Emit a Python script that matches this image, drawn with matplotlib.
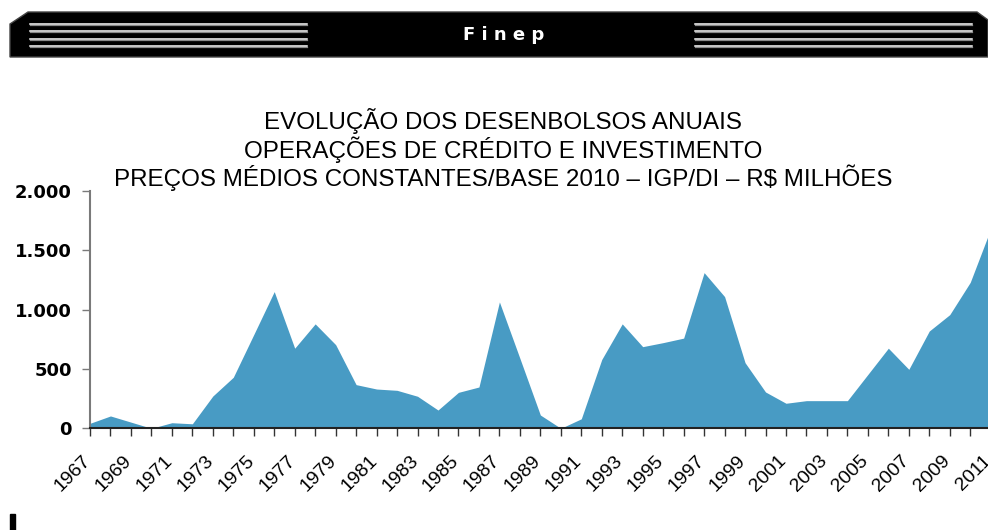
import numpy as np
import matplotlib.pyplot as plt
from matplotlib.patches import Polygon, Rectangle
from matplotlib.transforms import ScaledTranslation

## data (R$ milhoes, precos constantes 2010)
anos = list(range(1967, 2012))
desembolsos = [42, 104, 52, 0, 47, 38, 272, 430, 790, 1152,
               675, 880, 705, 368, 331, 320, 270, 154, 303, 348,
               1065, 590, 112, 0, 80, 580, 880, 688, 722, 760,
               1312, 1110, 553, 306, 211, 233, 233, 233, 454, 675,
               497, 820, 958, 1230, 1680]
yticks = [0, 500, 1000, 1500, 2000]
ytick_labels = ['0', '500', '1.000', '1.500', '2.000']
titulo = ['EVOLUÇÃO DOS DESENBOLSOS ANUAIS',
          'OPERAÇÕES DE CRÉDITO E INVESTIMENTO',
          'PREÇOS MÉDIOS CONSTANTES/BASE 2010 – IGP/DI – R$ MILHÕES']

W, H = 988, 530
fig = plt.figure(figsize=(W / 100, H / 100), dpi=100)

# background layer in pixel coords (header banner etc.)
bg = fig.add_axes([0, 0, 1, 1])
bg.set_xlim(0, W)
bg.set_ylim(H, 0)
bg.axis('off')
bg.add_patch(Polygon([(10, 57), (10, 24), (28, 12), (977, 12), (988, 20), (988, 57)],
                     closed=True, facecolor='black', edgecolor='#444444', lw=1))
for yy in [23.5, 31, 38.5, 46]:
    for x0, x1 in [(30, 307), (695, 972)]:
        bg.plot([x0, x1], [yy + 1, yy + 1], color='#8a8a8a', lw=0.9)
        bg.plot([x0, x1], [yy, yy], color='white', lw=1.1)
bg.text(504, 35, 'F i n e p', color='white', fontsize=13, fontweight='bold',
        ha='center', va='center')
for i, linha in enumerate(titulo):
    bg.text(503, 121 + i * 28.5, linha, fontsize=17.4, ha='center', va='center',
            family=['Liberation Sans Narrow', 'Liberation Sans'])
bg.add_patch(Rectangle((10, 514), 5, 16, color='black'))

# chart area
x0, x1 = 90, 990.7
y0, y1 = 428.3, 191
ax = fig.add_axes([x0 / W, (H - y0) / H, (x1 - x0) / W, (y0 - y1) / H])
ax.fill_between(anos, desembolsos, 0, color='#489bc4', lw=0)
ax.set_xlim(1967, 2011)
ax.set_ylim(0, 2000)

ax.spines['top'].set_visible(False)
ax.spines['right'].set_visible(False)
ax.spines['left'].set_color('#7a7a7a')
ax.spines['left'].set_linewidth(1.5)
ax.spines['bottom'].set_color('#222222')
ax.spines['bottom'].set_linewidth(1.5)

ax.set_yticks(yticks)
ax.set_yticklabels(ytick_labels, fontsize=13, fontweight='bold')
ax.tick_params(axis='y', length=6, width=1, color='#7a7a7a', pad=7)

ax.set_xticks(anos)
ax.set_xticklabels([])
ax.tick_params(axis='x', length=6, width=1, color='#333333')
off = ScaledTranslation(4 / 100, -24 / 100, fig.dpi_scale_trans)
for a in anos[::2]:
    ax.text(a, 0, str(a), fontsize=14, rotation=45, ha='right', va='top',
            family='Liberation Sans',
            transform=ax.get_xaxis_transform() + off, clip_on=False)

plt.savefig('out.png', dpi=100)
